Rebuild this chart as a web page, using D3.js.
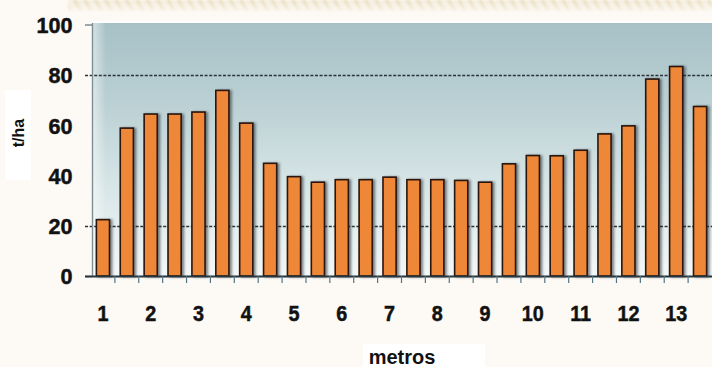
<!DOCTYPE html>
<html>
<head>
<meta charset="utf-8">
<script src="https://cdn.jsdelivr.net/npm/d3@7"></script>
<style>
  html, body { margin: 0; padding: 0; background: #fdfaf5; }
  svg { display: block; }
  text { font-family: "Liberation Sans", Arial, sans-serif; font-weight: bold; fill: #111; }
</style>
</head>
<body>
<svg id="chart" width="712" height="367"></svg>
<script>
// Distance along the transect (m) and yield at each sampling point (t/ha)
const positions = ["1", "1.5", "2", "2.5", "3", "3.5", "4", "4.5", "5", "5.5", "6", "6.5", "7",
                   "7.5", "8", "8.5", "9", "9.5", "10", "10.5", "11", "11.5", "12", "12.5", "13", "13.5"];
const yields = [22.4, 58.8, 64.4, 64.4, 65.2, 73.8, 60.8, 44.8, 39.5, 37.3, 38.3, 38.3, 39.3,
                38.3, 38.3, 38.0, 37.3, 44.6, 47.9, 47.8, 50.0, 56.5, 59.7, 78.3, 83.3, 67.4];
const xTickLabels = ["1", "2", "3", "4", "5", "6", "7", "8", "9", "10", "11", "12", "13"];
const yTicks = [0, 20, 40, 60, 80, 100];
const gridValues = [20, 80];

const svg = d3.select("#chart");
const W = 712, H = 367;
const plot = { left: 92, right: 712, top: 23, bottom: 276 };

const x = d3.scaleBand()
  .domain(positions)
  .range([91, plot.right])
  .paddingInner(0.45)
  .paddingOuter(0.225);

const y = d3.scaleLinear()
  .domain([0, 100])
  .range([plot.bottom, plot.top + 1.5]);

const defs = svg.append("defs");

// Plot background: grey-teal at the top fading to almost white at the base
const bg = defs.append("linearGradient")
  .attr("id", "plotBg").attr("x1", 0).attr("y1", 0).attr("x2", 0).attr("y2", 1);
bg.append("stop").attr("offset", "0%").attr("stop-color", "#a7c1c6");
bg.append("stop").attr("offset", "30%").attr("stop-color", "#b9cfd3");
bg.append("stop").attr("offset", "65%").attr("stop-color", "#d8e6e7");
bg.append("stop").attr("offset", "100%").attr("stop-color", "#f3f7f7");

// Light haze along the left edge of the plot
const side = defs.append("linearGradient")
  .attr("id", "sideHaze").attr("x1", 0).attr("y1", 0).attr("x2", 1).attr("y2", 0);
side.append("stop").attr("offset", "0%").attr("stop-color", "#ffffff").attr("stop-opacity", 0.55);
side.append("stop").attr("offset", "100%").attr("stop-color", "#ffffff").attr("stop-opacity", 0);

// Textured beige band along the top of the page
const pat = defs.append("pattern")
  .attr("id", "texture").attr("patternUnits", "userSpaceOnUse")
  .attr("width", 9).attr("height", 9).attr("patternTransform", "rotate(-30)");
pat.append("rect").attr("width", 9).attr("height", 9).attr("fill", "#f3ebd9");
pat.append("rect").attr("width", 3).attr("height", 9).attr("fill", "#e2d0a8");

const fade = defs.append("linearGradient")
  .attr("id", "bandFade").attr("x1", 0).attr("y1", 0).attr("x2", 0).attr("y2", 1);
fade.append("stop").attr("offset", "0%").attr("stop-color", "#fff").attr("stop-opacity", 1);
fade.append("stop").attr("offset", "100%").attr("stop-color", "#fff").attr("stop-opacity", 0.2);
const bandMask = defs.append("mask").attr("id", "bandMask");
bandMask.append("rect").attr("x", 0).attr("y", 0).attr("width", W).attr("height", 12)
  .attr("fill", "url(#bandFade)");

const soft = defs.append("filter").attr("id", "soft");
soft.append("feGaussianBlur").attr("stdDeviation", 1.1);

const shadow = defs.append("filter").attr("id", "barShadow")
  .attr("x", "-30%").attr("y", "-10%").attr("width", "170%").attr("height", "130%");
shadow.append("feDropShadow")
  .attr("dx", 2.2).attr("dy", 0.5).attr("stdDeviation", 0.9)
  .attr("flood-color", "#1e2a30").attr("flood-opacity", 0.55);

const axisShadow = defs.append("filter").attr("id", "axisShadow");
axisShadow.append("feGaussianBlur").attr("stdDeviation", 1);

// Page decoration
svg.append("rect").attr("x", 68).attr("y", 0).attr("width", W - 68).attr("height", 11)
  .attr("fill", "url(#texture)").attr("filter", "url(#soft)")
  .attr("mask", "url(#bandMask)").attr("opacity", 0.8);

// Plot area
svg.append("rect")
  .attr("x", plot.left).attr("y", plot.top)
  .attr("width", plot.right - plot.left).attr("height", plot.bottom - plot.top)
  .attr("fill", "url(#plotBg)");
svg.append("rect")
  .attr("x", plot.left).attr("y", plot.top)
  .attr("width", 14).attr("height", plot.bottom - plot.top)
  .attr("fill", "url(#sideHaze)");
svg.append("line")
  .attr("x1", plot.left).attr("x2", plot.right)
  .attr("y1", plot.top - 1).attr("y2", plot.top - 1)
  .attr("stroke", "#ffffff").attr("stroke-width", 2);

// Dotted reference lines
svg.append("g").selectAll("line")
  .data(gridValues)
  .join("line")
  .attr("x1", 85).attr("x2", plot.right)
  .attr("y1", d => Math.round(y(d)) + 0.5).attr("y2", d => Math.round(y(d)) + 0.5)
  .attr("stroke", "#2b3438").attr("stroke-width", 1.3)
  .attr("stroke-dasharray", "3,1.6");

// Left axis
const yAxis = svg.append("g")
  .attr("transform", `translate(${plot.left},0)`)
  .call(d3.axisLeft(y).tickValues(yTicks).tickSize(0).tickPadding(20));
yAxis.select(".domain")
  .attr("stroke", "#7d8e94").attr("stroke-width", 1.4)
  .attr("d", `M0.5,${plot.top}V${plot.bottom}`);
yAxis.selectAll(".tick text")
  .attr("font-size", 22)
  .attr("fill", "#141414")
  .attr("stroke", "#141414").attr("stroke-width", 0.5)
  .attr("dy", "0.36em")
  .attr("font-family", "Liberation Sans, Arial, sans-serif")
  .attr("transform", "scale(0.98,1)");
yAxis.selectAll(".tick")
  .filter(d => d === 0 || d === 100)
  .append("line")
  .attr("x1", -7).attr("x2", 0)
  .attr("stroke", d => d === 0 ? "#2b3438" : "#6a7a80")
  .attr("stroke-width", 1.3);

// Bars
svg.append("g")
  .selectAll("rect")
  .data(yields)
  .join("rect")
  .attr("x", (d, i) => x(positions[i]))
  .attr("y", d => y(d))
  .attr("width", x.bandwidth())
  .attr("height", d => y(0) - y(d))
  .attr("fill", "#ef8737")
  .attr("stroke", "#2a1409")
  .attr("stroke-width", 1.6)
  .attr("filter", "url(#barShadow)");

// Bottom axis: a tick between every bar, labels on whole metres
svg.append("line")
  .attr("x1", plot.left).attr("x2", plot.right)
  .attr("y1", plot.bottom + 3).attr("y2", plot.bottom + 3)
  .attr("stroke", "#6f9fb6").attr("stroke-width", 3)
  .attr("filter", "url(#axisShadow)");

const boundaries = positions.slice(1);
const xTicksAxis = svg.append("g")
  .attr("transform", `translate(0,${plot.bottom})`)
  .call(d3.axisBottom(x).tickValues(boundaries).tickSize(7).tickFormat(""));
xTicksAxis.selectAll(".tick")
  .attr("transform", d => `translate(${x(d) - x.step() * x.paddingInner() / 2},0)`);
xTicksAxis.selectAll(".tick line").attr("stroke", "#4f7486").attr("stroke-width", 1.2);
xTicksAxis.select(".domain")
  .attr("stroke", "#27353d").attr("stroke-width", 2)
  .attr("d", `M85,0.5H${plot.right}`);

const xLabels = svg.append("g")
  .attr("transform", `translate(0,${plot.bottom})`)
  .call(d3.axisBottom(x).tickValues(xTickLabels).tickSize(0).tickPadding(29));
xLabels.select(".domain").remove();
xLabels.selectAll(".tick")
  .attr("transform", d => `translate(${x(d) + x.bandwidth() / 2},0)`);
xLabels.selectAll(".tick text")
  .attr("font-size", 22)
  .attr("fill", "#141414")
  .attr("stroke", "#141414").attr("stroke-width", 0.5)
  .attr("font-family", "Liberation Sans, Arial, sans-serif")
  .attr("transform", "scale(0.9,1)")
  .attr("x", 0);

// Axis titles on small white panels
svg.append("rect").attr("x", 5).attr("y", 90).attr("width", 26).attr("height", 90).attr("fill", "#ffffff");
svg.append("text")
  .attr("transform", "translate(24,133) rotate(-90)")
  .attr("text-anchor", "middle")
  .attr("font-size", 16)
  .text("t/ha");

svg.append("rect").attr("x", 363).attr("y", 344).attr("width", 122).attr("height", 23).attr("fill", "#ffffff");
svg.append("text")
  .attr("x", 402).attr("y", 364)
  .attr("text-anchor", "middle")
  .attr("font-size", 20)
  .text("metros");
</script>
</body>
</html>
